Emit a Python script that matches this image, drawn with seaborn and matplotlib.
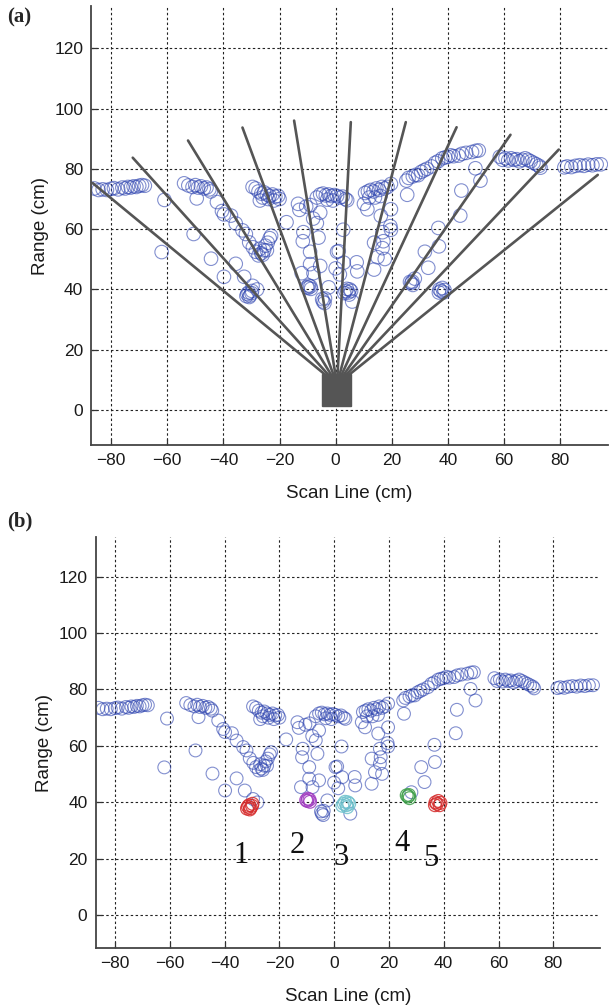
import numpy as np
import pandas as pd
import seaborn as sns
import matplotlib.pyplot as plt
from matplotlib.patches import Rectangle

# background scan returns (cm)
scan_x = [-86, -84.5, -83, -81.5, -80, -79, -77.5, -76, -75, -74, -73, -72, -71, -70, -69, -68,
          -61, -62,
          -54, -52.5, -51, -50, -49, -48, -47, -46, -45, -44.5, -49.5,
          -42.3, -40.5, -39.8, -37.3, -35.6, -33.2, -32, -30.8, -29.5,
          -28.5, -27.5, -26.5, -25.5, -25, -24.2, -23.5, -23, -26, -27, -24.5,
          -50.6, -44.4, -39.8, -35.6, -32.6, -29.6, -28,
          -29.6, -28.5, -27.5, -26.5, -25.5, -24.5, -23.5, -22.5, -21.5, -20.5, -26, -24, -22, -20, -27,
          -17.5,
          -13.4, -12.9, -10.5, -11.5, -11.7, -9.1, -6.1, -6.7, -5.5, -12.1, -9.1, -5.5, -7.9, -8, -9,
          -4.5, -4, -4.8, -3.8, -2.5,
          -6.7, -5.5, -4.5, -3.5, -2.5, -1.5, -0.5, 0.5, 1.5, 2.5, 3.5, 4.1, -3, -1,
          0.5, 2.9, 2.7, 1.1, 7.5, 7.7, 1.5, 0, 5.9,
          10.5, 11.5, 12.5, 13.5, 14.5, 15.5, 16.5, 17.5, 18.5, 19.7, 12, 14, 16,
          10.1, 11.3, 16.1, 19.7, 19.7, 16.7, 13.7, 16.7, 14.9, 13.7, 17.5, 19.5, 17,
          25.2, 26, 27.5, 28.5, 29.4, 30.5, 31.5, 32.5, 34.2, 35.5, 36.5, 38, 39, 40, 41, 42,
          43.8, 45, 46.5, 48.6, 50, 51,
          25.5, 49.8, 51.6, 44.8, 44.4, 36.6, 36.8, 31.8, 33, 28.2,
          58.5, 59.5, 60.5, 61.5, 62.5, 63.5, 64.5, 65.5, 66.5, 67.5, 68.5, 69.5, 70.5, 71.5, 72.5, 73,
          81.5, 82.5, 84, 85.5, 87, 88.5, 90, 91.5, 93, 94.5]
scan_y = [73.5, 73, 73.2, 73, 73.4, 73.6, 73.2, 73.8, 73.5, 74, 73.8, 74.2, 74, 74.4, 74.6, 74.4,
          69.7, 52.4,
          75.2, 74.5, 74, 74.6, 73.8, 74.2, 73.5, 73.8, 73.2, 72.5, 70.2,
          69, 66, 64.9, 64.5, 61.9, 59.6, 58.4, 55.6, 54,
          52.5, 51.3, 52, 53, 54.5, 55.5, 57, 57.8, 51.5, 53.5, 53,
          58.4, 50.2, 44.2, 48.5, 44.2, 41.2, 40,
          74, 73.5, 72.5, 71.8, 72.2, 71.5, 71, 71.5, 70.8, 71, 70.5, 70, 69.5, 70, 69.5,
          62.3,
          68.4, 66.4, 67.5, 59, 56, 52.5, 57.2, 62, 65.5, 45.4, 48.4, 47.8, 45.4, 63.5, 68,
          36, 35.5, 36.8, 37, 40.7,
          70.5, 71.5, 71.8, 71.2, 71.5, 71, 71.3, 71, 70.5, 70.8, 70, 69.6, 69.8, 69.5,
          52.5, 48.9, 59.8, 52.7, 49, 46, 45, 47, 36,
          72, 72.5, 73, 72.5, 73.5, 73, 74, 73.5, 74, 75, 70.5, 70.5, 71,
          68.4, 66.6, 64.4, 66.6, 59.8, 59, 55.5, 53.7, 50.7, 46.6, 50.1, 61, 56,
          76.1, 77, 77.5, 78, 77.9, 79, 79.5, 80, 80.8, 82, 82.5, 83.5, 83.8, 84, 84.5, 84.2,
          84.4, 85, 85.3, 85.6, 86, 86.1,
          71.4, 80.2, 76.1, 72.8, 64.5, 60.4, 54.3, 52.5, 47.2, 43.6,
          84, 83, 83.5, 82.8, 83.5, 83, 83.2, 82.5, 83, 83.5, 83, 82.5, 82, 81.5, 81, 80.4,
          80.5, 80.8, 80.6, 81, 81.2, 81, 81.4, 81.2, 81.5, 81.5]

# detected objects (clusters 1-5)
obj_id = [1] * 7 + [2] * 5 + [3] * 7 + [4] * 4 + [5] * 6
obj_x = [-31.5, -30.5, -31, -30, -31.8, -30.8, -29.8,
         -9.8, -9, -8.8, -9.6, -10.2,
         3.5, 4.5, 4, 5, 3, 4.8, 5.5,
         27, 27.5, 26.5, 27.3,
         37.5, 38.5, 37, 38, 36.8, 38.8]
obj_y = [38.5, 38, 39, 38.8, 37.8, 37.5, 39.5,
         40.5, 41, 40.2, 41.3, 40.8,
         39.5, 39, 40.2, 40, 38.8, 38.3, 39.5,
         42.1, 41.5, 42.5, 42.6,
         39.5, 39, 40, 40.5, 39, 39.8]
obj_colors = {1: '#d62a2a', 2: '#a03cc0', 3: '#6cc0cc', 4: '#3c9e48', 5: '#d42c2c'}
label_x = [-34, -13.4, 2.4, 24.8, 35.3]
label_y = [21.2, 24.8, 20.5, 25.5, 20.2]

# sonar beam end points
ray_end_x = [-86.6, -72.3, -52.6, -33.2, -14.8, 5.4, 25, 43.1, 62.3, 79.5, 93.4]
ray_end_y = [75.3, 83.7, 89.4, 93.7, 96, 95.5, 95.5, 93.8, 91.3, 86.4, 78]
ray_origin = (0.5, 8.5)

scan = pd.DataFrame({'x': scan_x, 'y': scan_y})
objs = pd.DataFrame({'x': obj_x, 'y': obj_y, 'id': obj_id})

sns.set_style('white')
plt.rcParams['font.family'] = ['Liberation Sans', 'DejaVu Sans']

fig = plt.figure(figsize=(6.14, 10.08), dpi=100)
ax_a = fig.add_axes([0.149, 0.5585, 0.841, 0.4355])
ax_b = fig.add_axes([0.156, 0.0595, 0.821, 0.4077])

blue = '#2f45b0'


def style_axes(ax):
    ax.set_xlim(-87, 97)
    ax.set_ylim(-11.6, 134)
    ax.set_xticks(range(-80, 81, 20))
    ax.set_yticks(range(0, 121, 20))
    ax.grid(True, color='#222222', linestyle=(0, (2.2, 2.2)), linewidth=0.8)
    ax.set_axisbelow(True)
    for s in ['top', 'right']:
        ax.spines[s].set_visible(False)
    for s in ['left', 'bottom']:
        ax.spines[s].set_color('#444444')
        ax.spines[s].set_linewidth(1.3)
    ax.tick_params(direction='in', length=4, width=0.9, color='#333333',
                   labelsize=12.5, labelcolor='#1a1a1a', left=True, bottom=True, pad=6)


# panel (a)
style_axes(ax_a)
for ex, ey in zip(ray_end_x, ray_end_y):
    ax_a.plot([ray_origin[0], ex], [ray_origin[1], ey], color='#555555', lw=1.9, zorder=3)
ax_a.add_patch(Rectangle((-5, 1.3), 10.5, 10.7, color='#555555', zorder=4))
sns.scatterplot(data=scan, x='x', y='y', ax=ax_a, marker='o', s=95,
                facecolor='none', edgecolor=blue, linewidth=0.8, alpha=0.6, zorder=2)
sns.scatterplot(data=objs, x='x', y='y', ax=ax_a, marker='o', s=95,
                facecolor='none', edgecolor=blue, linewidth=0.8, alpha=0.6, zorder=2)
ax_a.set_xlabel('Scan Line (cm)', fontsize=13.5, labelpad=12, color='#1a1a1a')
ax_a.set_ylabel('Range (cm)', fontsize=13.5, labelpad=4, color='#1a1a1a')

# panel (b)
style_axes(ax_b)
sns.scatterplot(data=scan, x='x', y='y', ax=ax_b, marker='o', s=85,
                facecolor='none', edgecolor=blue, linewidth=0.8, alpha=0.6, zorder=2)
for k, c in obj_colors.items():
    sub = objs[objs['id'] == k]
    sns.scatterplot(data=sub, x='x', y='y', ax=ax_b, marker='o', s=85,
                    facecolor='none', edgecolor=c, linewidth=0.9, alpha=0.85, zorder=3)
for i, (lx, ly) in enumerate(zip(label_x, label_y)):
    ax_b.text(lx, ly, str(i + 1), fontsize=22, family=['Liberation Serif', 'DejaVu Serif'],
              ha='center', va='center', color='#111111')
ax_b.set_xlabel('Scan Line (cm)', fontsize=13.5, labelpad=12, color='#1a1a1a')
ax_b.set_ylabel('Range (cm)', fontsize=13.5, labelpad=4, color='#1a1a1a')

fig.text(0.012, 0.978, '(a)', fontsize=15, fontweight='bold',
         family=['Liberation Serif', 'DejaVu Serif'])
fig.text(0.012, 0.478, '(b)', fontsize=15, fontweight='bold',
         family=['Liberation Serif', 'DejaVu Serif'])

fig.savefig('out.png', dpi=100)
